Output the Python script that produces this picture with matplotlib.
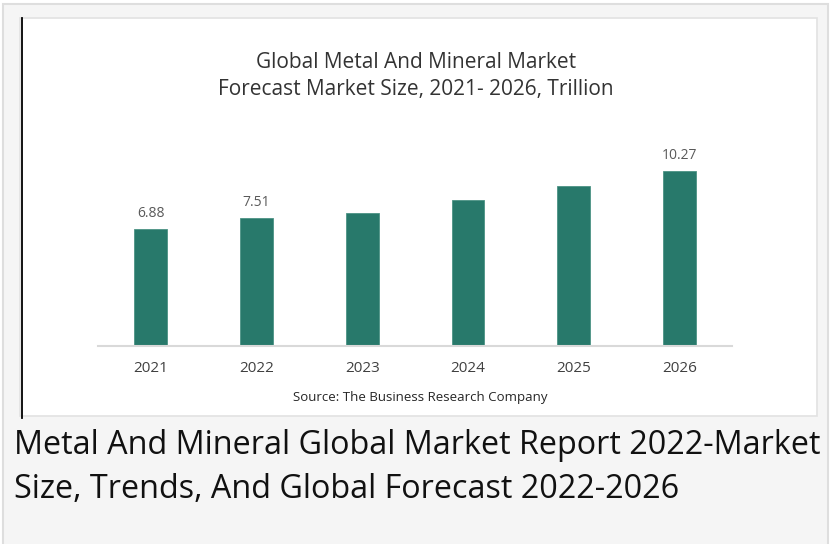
import matplotlib
matplotlib.use("Agg")
import matplotlib.pyplot as plt
from matplotlib.patches import Rectangle
from matplotlib.lines import Line2D

# data
years = ["2021", "2022", "2023", "2024", "2025", "2026"]
market_size = [6.88, 7.51, 7.80, 8.57, 9.41, 10.27]
shown_labels = ["6.88", "7.51", None, None, None, "10.27"]

title_lines = ["Global Metal And Mineral Market",
               "Forecast Market Size, 2021- 2026, Trillion"]
source_text = "Source: The Business Research Company"
caption_lines = ["Metal And Mineral Global Market Report 2022-Market",
                 "Size, Trends, And Global Forecast 2022-2026"]

W, H = 836, 544
plt.rcParams['font.family'] = ['Open Sans', 'DejaVu Sans']

fig = plt.figure(figsize=(W / 100, H / 100), dpi=100, facecolor="white")


def px_rect(x0, y0, x1, y1, z, **kw):
    """Rectangle given in pixel coords (origin top-left)."""
    r = Rectangle((x0 / W, 1 - y1 / H), (x1 - x0) / W, (y1 - y0) / H,
                  transform=fig.transFigure, zorder=z, **kw)
    fig.patches.append(r)


# outer grey card and inner white chart panel
px_rect(3, 4, 828, 560, -3, facecolor="#f5f5f5", edgecolor="#dedede", linewidth=1.5)
px_rect(20, 18, 817, 416, -2, facecolor="white", edgecolor="#e2e2e2", linewidth=1.2)
fig.lines.append(Line2D([21.5 / W, 21.5 / W], [1 - 18 / H, 1 - 418 / H],
                        transform=fig.transFigure, color="black",
                        linewidth=1.3, zorder=-1))

# bar chart axes
ax = fig.add_axes([97.9 / W, 198 / H, 634.3 / W, 204 / H])
ax.set_facecolor("none")
bars = ax.bar(years, market_size, width=0.31, color="#28796b",
              edgecolor="#4c9385", linewidth=0.6)
ax.set_xlim(-0.5, 5.5)
ax.set_ylim(0, 12)
for spine in ["top", "right", "left"]:
    ax.spines[spine].set_visible(False)
ax.spines["bottom"].set_color("#d9d9d9")
ax.spines["bottom"].set_linewidth(1.5)
ax.set_yticks([])
ax.tick_params(axis="x", length=0, pad=11, labelsize=11, labelcolor="#404040")

for bar, lab in zip(bars, shown_labels):
    if lab:
        ax.annotate(lab, (bar.get_x() + bar.get_width() / 2, bar.get_height()),
                    xytext=(0, 6), textcoords="offset points",
                    ha="center", va="bottom", fontsize=10, color="#595959")

# chart title, source, caption
fig.text(416 / W, 1 - 62 / H, title_lines[0], ha="center", va="center",
         fontsize=15, color="#333333")
fig.text(416 / W, 1 - 90 / H, title_lines[1], ha="center", va="center",
         fontsize=15, color="#333333")
fig.text(420 / W, 1 - 398 / H, source_text, ha="center", va="center",
         fontsize=9.5, color="#262626")
fig.text(14 / W, 1 - 445 / H, caption_lines[0], ha="left", va="center",
         fontsize=23.3, color="#111111")
fig.text(14 / W, 1 - 490 / H, caption_lines[1], ha="left", va="center",
         fontsize=23.3, color="#111111")

fig.savefig("out.png", dpi=100, facecolor="white")
